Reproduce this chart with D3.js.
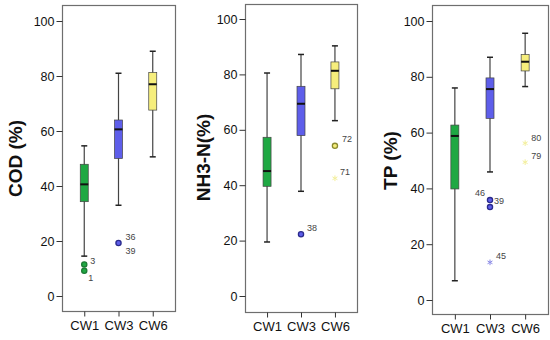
<!DOCTYPE html>
<html>
<head>
<meta charset="utf-8">
<script src="https://cdn.jsdelivr.net/npm/d3@7"></script>
<style>
  body { margin: 0; background: #fff; }
  text { font-family: "Liberation Sans", Arial, sans-serif; }
</style>
</head>
<body>
<div id="chart"></div>
<script>
// groups and the y ticks shared by all three panels
var groups = ["CW1", "CW3", "CW6"];
var yTicks = [0, 20, 40, 60, 80, 100];
var titles = ["COD (%)", "NH3-N(%)", "TP (%)"];

// box stats per group: [lower whisker, Q1, median, Q3, upper whisker]
var codStats = [[14.5, 34.3, 40.6, 47.9, 54.6], [33, 50, 60.6, 64, 81], [50.6, 67.6, 77, 81.3, 89]];
var nh3Stats = [[19.5, 39.6, 45.1, 57.3, 80.5], [37.8, 57.9, 69.4, 75.7, 87.2], [63.3, 74.8, 81.3, 84.5, 90.3]];
var tpStats  = [[6.9, 39.8, 58.8, 62.7, 76], [45.9, 65.1, 75.6, 79.6, 87], [76.5, 82.1, 85.4, 88, 95.6]];

// outliers: [group, value, case id, kind] kind o = circle, x = extreme
var codOut = [["CW1", 11.5, "3", "o"], ["CW1", 9.2, "1", "o"], ["CW3", 19.3, "36", "o"], ["CW3", 19.3, "39", "o"]];
var nh3Out = [["CW3", 22.3, "38", "o"], ["CW6", 54.2, "72", "o"], ["CW6", 42.5, "71", "x"]];
var tpOut  = [["CW3", 35.8, "46", "o"], ["CW3", 33.3, "39", "o"], ["CW3", 13.5, "45", "x"], ["CW6", 56.2, "80", "x"], ["CW6", 49.4, "79", "x"]];

var fills = {CW1: "#1fa843", CW3: "#5e5eea", CW6: "#f6ee7c"};
var darks = {CW1: "#1d7a35", CW3: "#2a2a8c", CW6: "#8a8a30"};
var extremeCol = {CW3: "#8a8ae6", CW6: "#f3ef9c"};

// case-label offsets (dx, dy) in px, per panel
var labelOff = [
  {"3": [6, -4], "1": [4, 7], "36": [7, -6], "39": [7, 8]},
  {"38": [6, -6], "72": [7, -7], "71": [5, -6]},
  {"46": [-5, -7], "39": [4, 8], "45": [6, -6], "80": [6, -5], "79": [6, -6]}
];

var panels = [
  {title: titles[0], stats: codStats, out: codOut, left: 62, right: 175, top: 5, bottom: 311, y0: 296, y100: 21, tx: 22},
  {title: titles[1], stats: nh3Stats, out: nh3Out, left: 245, right: 357, top: 4, bottom: 312, y0: 296, y100: 19, tx: 210},
  {title: titles[2], stats: tpStats, out: tpOut, left: 432, right: 548, top: 5, bottom: 314, y0: 300, y100: 21, tx: 397}
];

var svg = d3.select("#chart").append("svg")
  .attr("width", 550).attr("height", 340);

panels.forEach(function(p, pi) {
  var g = svg.append("g");
  var y = d3.scaleLinear().domain([0, 100]).range([p.y0, p.y100]);
  var x = d3.scalePoint().domain(groups).range([p.left, p.right]).padding(0.65);

  // frame
  g.append("rect")
    .attr("x", p.left + 0.5).attr("y", p.top + 0.5)
    .attr("width", p.right - p.left).attr("height", p.bottom - p.top)
    .attr("fill", "none").attr("stroke", "#6e6e6e").attr("stroke-width", 1.2);

  var yAxis = g.append("g")
    .attr("transform", "translate(" + (p.left + 0.5) + ",0)")
    .call(d3.axisLeft(y).tickValues(yTicks).tickSize(6).tickPadding(2));
  yAxis.select(".domain").remove();
  yAxis.selectAll("line").attr("stroke", "#333");
  yAxis.selectAll("text").attr("font-size", 12.5).attr("fill", "#111")
    .style("font-family", "Liberation Sans, Arial, sans-serif");

  var xAxis = g.append("g")
    .attr("transform", "translate(0," + (p.bottom + 0.5) + ")")
    .call(d3.axisBottom(x).tickSize(5).tickPadding(4));
  xAxis.select(".domain").remove();
  xAxis.selectAll("line").attr("stroke", "#333");
  xAxis.selectAll("text").attr("font-size", 13).attr("fill", "#111")
    .style("font-family", "Liberation Sans, Arial, sans-serif");

  // y title
  g.append("text")
    .attr("transform", "translate(" + p.tx + "," + ((p.y0 + p.y100) / 2) + ") rotate(-90)")
    .attr("text-anchor", "middle")
    .attr("font-size", 19).attr("font-weight", "bold").attr("fill", "#111")
    .text(p.title);

  var bw = 8, cap = 4;
  groups.forEach(function(grp, i) {
    var s = p.stats[i], cx = x(grp);
    // whisker
    g.append("line").attr("x1", cx).attr("x2", cx).attr("y1", y(s[0])).attr("y2", y(s[4]))
      .attr("stroke", "#444").attr("stroke-width", 1.2);
    [s[0], s[4]].forEach(function(v) {
      g.append("line").attr("x1", cx - cap / 2 - 1).attr("x2", cx + cap / 2 + 1)
        .attr("y1", y(v)).attr("y2", y(v))
        .attr("stroke", "#222").attr("stroke-width", 1.5);
    });
    g.append("rect")
      .attr("x", cx - bw / 2).attr("y", y(s[3]))
      .attr("width", bw).attr("height", y(s[1]) - y(s[3]))
      .attr("fill", fills[grp]).attr("stroke", "#444").attr("stroke-width", 0.7);
    g.append("line").attr("x1", cx - bw / 2).attr("x2", cx + bw / 2)
      .attr("y1", y(s[2])).attr("y2", y(s[2]))
      .attr("stroke", "#111").attr("stroke-width", 2);
  });

  // outliers
  var seen = {};
  p.out.forEach(function(o) {
    var cx = x(o[0]), cy = y(o[1]);
    var key = o[0] + o[1];
    if (!seen[key]) {
      seen[key] = true;
      if (o[3] === "o") {
        g.append("circle").attr("cx", cx).attr("cy", cy).attr("r", 2.6)
          .attr("fill", fills[o[0]])
          .attr("stroke", darks[o[0]]).attr("stroke-width", 1.3);
      } else {
        g.append("path")
          .attr("transform", "translate(" + cx + "," + cy + ")")
          .attr("d", d3.symbol().type(d3.symbolAsterisk).size(22)())
          .attr("fill", "none").attr("stroke", extremeCol[o[0]]).attr("stroke-width", 1);
      }
    }
    var off = labelOff[pi][o[2]];
    // TP case 39 sits level with the upper circle, not its own
    var ly = (pi === 2 && o[2] === "39") ? cy - 6 : cy + off[1];
    g.append("text")
      .attr("x", cx + off[0]).attr("y", ly)
      .attr("dy", "0.35em")
      .attr("text-anchor", off[0] < 0 ? "end" : "start")
      .attr("font-size", 9).attr("fill", "#444")
      .text(o[2]);
  });
});
</script>
</body>
</html>
